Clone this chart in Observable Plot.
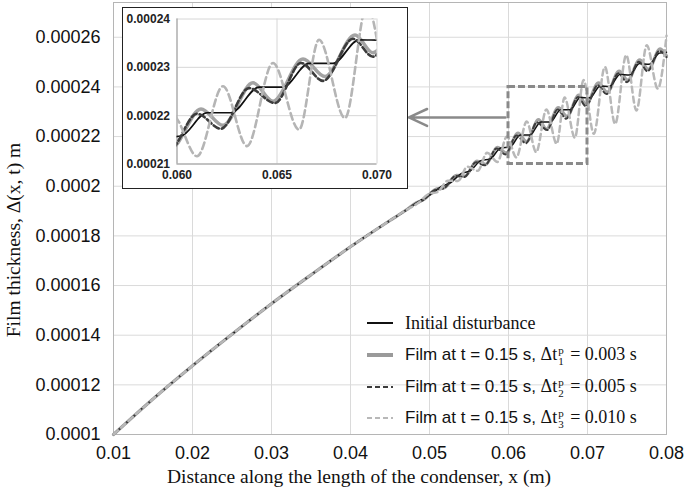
<!DOCTYPE html>
<html>
<head>
<meta charset="utf-8">
<script src="https://cdn.jsdelivr.net/npm/d3@7"></script>
<script src="https://cdn.jsdelivr.net/npm/@observablehq/plot@0.6"></script>
<style>
  body { margin: 0; background: #fff; }
  #wrap { position: relative; width: 685px; height: 495px; overflow: hidden; background: #fff; }
  #main { position: absolute; left: 0; top: 0; }
  #inset { position: absolute; left: 122px; top: 7px; width: 286px; height: 182px; border: 1.5px solid #222; background: #fff; box-sizing: border-box; overflow: hidden; }
  #legend { position: absolute; left: 367px; top: 0; }
  .row { position: absolute; left: 0; height: 30px; white-space: nowrap; display: flex; align-items: center; color: #111; }
  .row svg { margin-right: 12px; flex: none; }
  .sans { font-family: "Liberation Sans", Arial, sans-serif; font-size: 17px; }
  .serif { font-family: "Liberation Serif", "Times New Roman", serif; font-size: 18px; }
  .ss { display: inline-flex; flex-direction: column; font-size: 11px; line-height: 11px; vertical-align: 6px; margin: 0 2px 0 1px; text-align: center; }
</style>
</head>
<body>
<div id="wrap">
  <div id="main"></div>
  <div id="inset"></div>
  <div id="legend"></div>
</div>
<script>
// ---------------- data (film thickness values in units of 1e-6 m) ----------------
const baseX = [0.010, 0.015, 0.020, 0.025, 0.030, 0.035, 0.040, 0.045];
const baseY = [100.0, 114.3, 127.7, 140.4, 152.7, 164.3, 175.6, 186.2];

// Initial disturbance
const initX = [0.0470, 0.0490, 0.0502, 0.0515, 0.0527, 0.0540, 0.0552, 0.0565, 0.0577, 0.0590, 0.0602, 0.0615, 0.0627, 0.0641, 0.0653, 0.0666, 0.0678, 0.0691, 0.0703, 0.0716, 0.0728, 0.0741, 0.0753, 0.0766, 0.0778, 0.0791, 0.0800];
const initY = [190.3, 194.6, 196.7, 199.9, 201.5, 205.1, 206.3, 210.3, 211.0, 215.4, 215.8, 220.6, 220.6, 225.9, 225.9, 230.8, 230.8, 235.7, 235.6, 240.4, 240.2, 245.0, 244.8, 249.4, 249.1, 253.6, 254.0];

// Film at t = 0.15 s, Δt1 = 0.003 s
const dt1X = [0.0470, 0.0482, 0.0493, 0.0508, 0.0519, 0.0534, 0.0545, 0.0560, 0.0571, 0.0586, 0.0597, 0.0612, 0.0623, 0.0638, 0.0648, 0.0663, 0.0674, 0.0689, 0.0698, 0.0714, 0.0725, 0.0740, 0.0751, 0.0766, 0.0777, 0.0792, 0.0800];
const dt1Y = [190.3, 193.1, 194.7, 198.8, 199.4, 204.4, 204.1, 210.1, 208.8, 215.7, 213.3, 221.4, 218.0, 226.8, 223.0, 231.7, 228.1, 236.7, 233.0, 241.6, 237.9, 246.4, 242.7, 250.9, 247.1, 255.3, 252.5];

// Film at t = 0.15 s, Δt2 = 0.005 s
const dt2X = [0.0470, 0.0481, 0.0492, 0.0507, 0.0518, 0.0533, 0.0544, 0.0559, 0.0570, 0.0585, 0.0596, 0.0610, 0.0622, 0.0636, 0.0649, 0.0662, 0.0673, 0.0688, 0.0698, 0.0713, 0.0724, 0.0739, 0.0750, 0.0765, 0.0776, 0.0791, 0.0800];
const dt2Y = [190.3, 192.7, 194.4, 198.5, 199.1, 204.1, 203.7, 209.7, 208.4, 215.2, 212.8, 220.4, 217.3, 225.7, 222.6, 230.9, 227.2, 235.9, 232.2, 240.7, 237.1, 245.5, 241.9, 250.1, 246.3, 254.5, 252.0];

// Film at t = 0.15 s, Δt3 = 0.010 s
const dt3X = [0.0470, 0.0486, 0.0498, 0.0511, 0.0523, 0.0536, 0.0548, 0.0561, 0.0573, 0.0586, 0.0598, 0.0610, 0.0623, 0.0635, 0.0648, 0.0661, 0.0671, 0.0684, 0.0695, 0.0708, 0.0722, 0.0735, 0.0749, 0.0762, 0.0775, 0.0789, 0.0800];
const dt3Y = [190.3, 193.3, 196.7, 197.8, 202.2, 202.1, 207.9, 206.2, 213.5, 209.8, 220.0, 211.6, 226.1, 213.7, 230.9, 217.1, 235.7, 219.5, 242.8, 221.1, 248.1, 225.1, 252.8, 230.5, 256.8, 239.3, 260.6];

// ticks and labels
const xTicks = [0.01, 0.02, 0.03, 0.04, 0.05, 0.06, 0.07, 0.08];
const xTickLabels = ["0.01", "0.02", "0.03", "0.04", "0.05", "0.06", "0.07", "0.08"];
const yTicks = [0.0001, 0.00012, 0.00014, 0.00016, 0.00018, 0.0002, 0.00022, 0.00024, 0.00026];
const yTickLabels = ["0.0001", "0.00012", "0.00014", "0.00016", "0.00018", "0.0002", "0.00022", "0.00024", "0.00026"];
const insetXTicks = [0.060, 0.065, 0.070];
const insetXTickLabels = ["0.060", "0.065", "0.070"];
const insetYTicks = [0.00021, 0.00022, 0.00023, 0.00024];
const insetYTickLabels = ["0.00021", "0.00022", "0.00023", "0.00024"];

// annotations (data units)
const zoomBox = [{x1: 0.060, x2: 0.070, y1: 0.000209, y2: 0.00024}];
const pointer = [{x1: 0.0596, x2: 0.0474, y: 0.0002277}];

const xLabel = "Distance along the length of the condenser, x (m)";
const yLabel = "Film thickness, Δ(x, t) m";

// ---------------- build series ----------------
const U = 1e-6;
function series(xs, ys) {
  return baseX.map((x, i) => ({x, y: baseY[i] * U}))
    .concat(xs.map((x, i) => ({x, y: ys[i] * U})));
}
const sInit = series(initX, initY);
const s1 = series(dt1X, dt1Y);
const s2 = series(dt2X, dt2Y);
const s3 = series(dt3X, dt3Y);

const lbl = (ticks, labels) => d => labels[ticks.findIndex(t => Math.abs(t - d) < 1e-12)];
const serifFont = '"Liberation Serif", "Times New Roman", serif';

// ---------------- main chart ----------------
const main = Plot.plot({
  width: 685, height: 495,
  marginLeft: 113, marginRight: 19, marginTop: 2, marginBottom: 61,
  style: {fontFamily: '"Liberation Sans", Arial, sans-serif', fontSize: "18px", color: "#111", background: "transparent", overflow: "visible"},
  x: {domain: [0.01, 0.08], label: null},
  y: {domain: [0.0001, 0.000274], label: null},
  marks: [
    Plot.gridX(xTicks, {stroke: "#dadada", strokeOpacity: 1}),
    Plot.gridY(yTicks, {stroke: "#dadada", strokeOpacity: 1}),
    Plot.frame({stroke: "#b5b5b5"}),
    Plot.axisX(xTicks, {tickSize: 0, tickPadding: 12, tickFormat: lbl(xTicks, xTickLabels), fontSize: 18}),
    Plot.axisY(yTicks, {tickSize: 0, tickPadding: 13, tickFormat: lbl(yTicks, yTickLabels), fontSize: 18}),
    Plot.line(s1, {x: "x", y: "y", curve: "monotone-x", stroke: "#a3a3a3", strokeWidth: 3.2}),
    Plot.line(sInit, {x: "x", y: "y", curve: "monotone-x", stroke: "#111", strokeWidth: 1.5}),
    Plot.line(s2, {x: "x", y: "y", curve: "monotone-x", stroke: "#3c3c3c", strokeWidth: 2, strokeDasharray: "5,3"}),
    Plot.line(s3, {x: "x", y: "y", curve: "monotone-x", stroke: "#b8b8b8", strokeWidth: 2.5, strokeDasharray: "6,4"}),
    Plot.rect(zoomBox, {x1: "x1", x2: "x2", y1: "y1", y2: "y2", fill: "none", stroke: "#8a8a8a", strokeWidth: 3, strokeDasharray: "7,3"}),
    Plot.arrow(pointer, {x1: "x1", x2: "x2", y1: "y", y2: "y", stroke: "#8a8a8a", strokeWidth: 2.5, headLength: 12, headAngle: 50}),
    Plot.text([xLabel], {text: d => d, frameAnchor: "bottom", textAnchor: "middle", dy: 48, dx: -31, fontFamily: serifFont, fontSize: 19.5, fill: "#111"})
  ]
});
// rotated y-axis title
d3.select(main).append("text")
  .attr("transform", "translate(13,240) rotate(-90)")
  .attr("text-anchor", "middle")
  .attr("dominant-baseline", "central")
  .attr("font-family", serifFont)
  .attr("font-size", 19.5)
  .attr("fill", "#111")
  .text(yLabel);
document.getElementById("main").appendChild(main);

// ---------------- inset chart ----------------
const inset = Plot.plot({
  width: 283, height: 179,
  marginLeft: 53.5, marginRight: 29.5, marginTop: 10.5, marginBottom: 23.5,
  style: {fontFamily: '"Liberation Sans", Arial, sans-serif', fontSize: "12px", fontWeight: "bold", color: "#222", background: "#fff"},
  x: {domain: [0.060, 0.070], label: null},
  y: {domain: [0.00021, 0.00024], label: null},
  marks: [
    Plot.gridX(insetXTicks, {stroke: "#d6d6d6", strokeOpacity: 1}),
    Plot.gridY(insetYTicks, {stroke: "#d6d6d6", strokeOpacity: 1}),
    Plot.ruleX([0.060], {stroke: "#999"}),
    Plot.ruleY([0.00021], {stroke: "#999"}),
    Plot.line(s1, {x: "x", y: "y", curve: "monotone-x", stroke: "#a3a3a3", strokeWidth: 3.5, clip: true}),
    Plot.line(sInit, {x: "x", y: "y", curve: "monotone-x", stroke: "#111", strokeWidth: 1.7, clip: true}),
    Plot.line(s2, {x: "x", y: "y", curve: "monotone-x", stroke: "#3c3c3c", strokeWidth: 2.6, strokeDasharray: "6,3", clip: true}),
    Plot.line(s3, {x: "x", y: "y", curve: "monotone-x", stroke: "#b5b5b5", strokeWidth: 2.6, strokeDasharray: "7,4", clip: true}),
    Plot.axisX(insetXTicks, {tickSize: 0, tickPadding: 6, tickFormat: lbl(insetXTicks, insetXTickLabels), fontSize: 12, fontWeight: "bold"}),
    Plot.axisY(insetYTicks, {tickSize: 0, tickPadding: 7, tickFormat: lbl(insetYTicks, insetYTickLabels), fontSize: 12, fontWeight: "bold"})
  ]
});
document.getElementById("inset").appendChild(inset);

// ---------------- legend ----------------
const legendItems = [
  {label: "Initial disturbance", stroke: "#111", width: 2, dash: null, math: null, center: 323},
  {label: "Film at t = 0.15 s, ", stroke: "#9a9a9a", width: 4, dash: null, math: ["1", "0.003"], center: 355},
  {label: "Film at t = 0.15 s, ", stroke: "#3c3c3c", width: 2, dash: "5,3", math: ["2", "0.005"], center: 387},
  {label: "Film at t = 0.15 s, ", stroke: "#b8b8b8", width: 2, dash: "5,3", math: ["3", "0.010"], center: 418}
];
const leg = document.getElementById("legend");
legendItems.forEach(it => {
  const row = document.createElement("div");
  row.className = "row";
  row.style.top = (it.center - 15) + "px";
  const dash = it.dash ? ` stroke-dasharray="${it.dash}"` : "";
  let html = `<svg width="26" height="10"><line x1="0" x2="26" y1="5" y2="5" stroke="${it.stroke}" stroke-width="${it.width}"${dash}/></svg>`;
  if (!it.math) {
    html += `<span class="serif">${it.label}</span>`;
  } else {
    html += `<span><span class="sans">${it.label.replace(/ $/, "&nbsp;")}</span><span class="serif">Δt<span class="ss"><span>p</span><span>${it.math[0]}</span></span> = ${it.math[1]} s</span></span>`;
  }
  row.innerHTML = html;
  leg.appendChild(row);
});
</script>
</body>
</html>
